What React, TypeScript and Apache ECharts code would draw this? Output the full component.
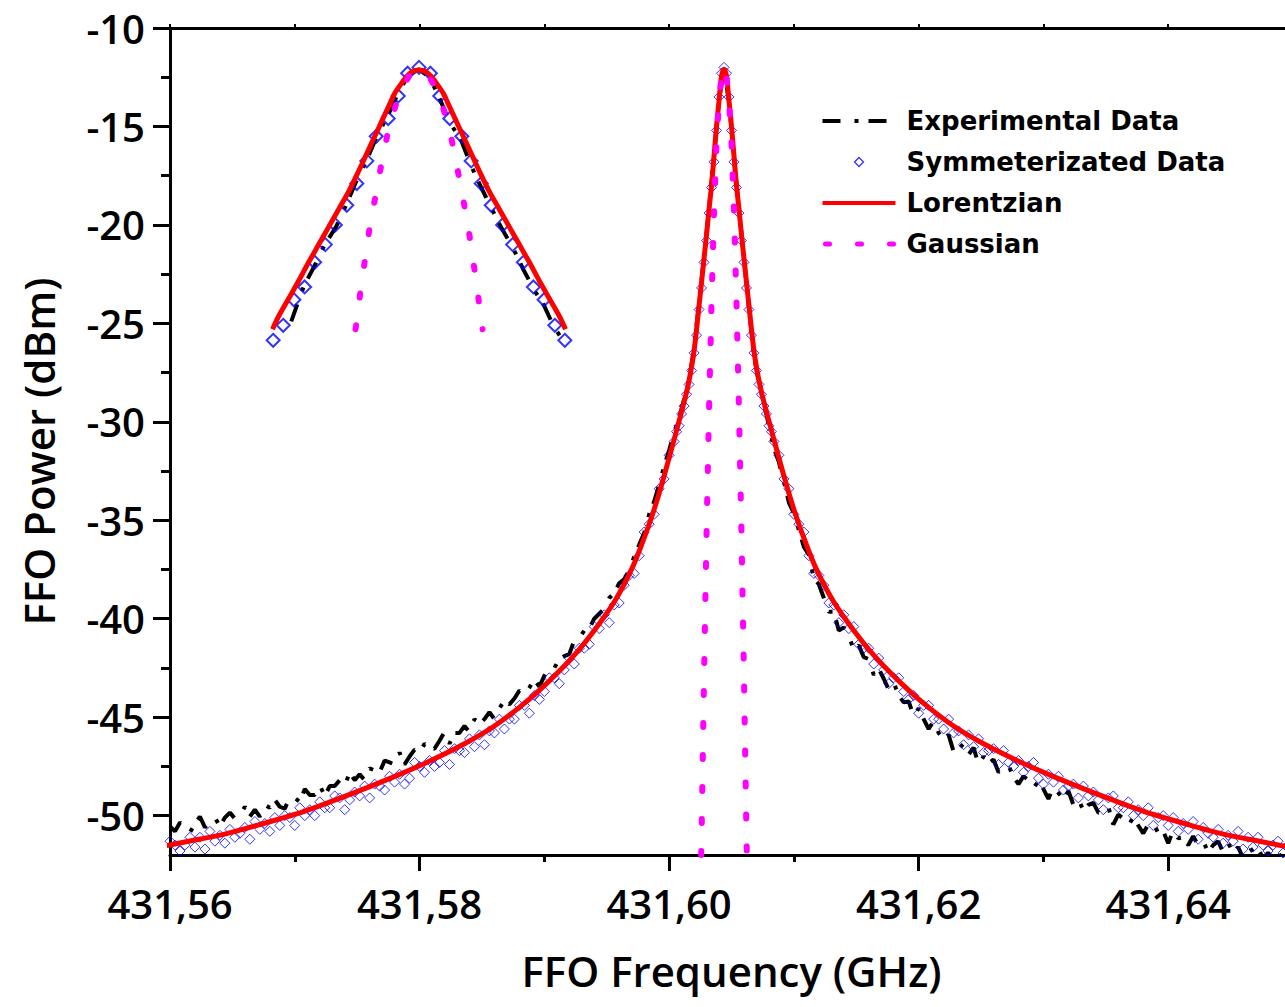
import React, { useEffect, useRef } from 'react';
import * as echarts from 'echarts';

// ---------- axis ticks ----------
const xMajorTicks = [431.56, 431.58, 431.6, 431.62, 431.64];
const xMinorTicks = [431.57, 431.59, 431.61, 431.63];
const xTopTicks = [431.56, 431.57, 431.58, 431.59, 431.6, 431.61, 431.62, 431.63, 431.64];
const yMajorTicks = [-50, -45, -40, -35, -30, -25, -20, -15, -10];
const yMinorTicks = [-47.5, -42.5, -37.5, -32.5, -27.5, -22.5, -17.5, -12.5];

// ---------- peak centre (GHz) ----------
const CENTER = 431.6044;

// ---------- experimental data: sweep start/step (GHz) and power (dBm) ----------
const EXP_START = 431.56;
const EXP_STEP = 0.0004;
const expPower = [
  -50.55, -50.8, -50.35, -50.6, -50.85, -50.4, -50.05, -50.6, -50.35, -50.1,
  -50.55, -50.1, -49.85, -50.15, -50.0, -49.55, -50.05, -49.7, -50.05, -49.45,
  -49.6, -49.2, -49.55, -49.65, -49.05, -49.1, -49.3, -48.65, -48.95, -48.95,
  -48.45, -49.0, -48.5, -48.5, -48.2, -48.5, -47.8, -48.2, -47.9, -48.2,
  -47.6, -47.7, -47.8, -47.2, -47.3, -47.4, -46.8, -47.4, -47.0, -46.65,
  -46.85, -46.35, -46.55, -46.6, -46.2, -45.75, -46.35, -45.8, -45.8, -45.45,
  -45.75, -45.1, -45.35, -45.1, -44.75, -45.1, -44.55, -44.15, -44.35, -44.05,
  -43.65, -43.85, -43.5, -43.1, -43.45, -42.9, -42.45, -42.5, -42.05, -41.9,
  -41.8, -41.1, -41.0, -40.6, -40.5, -40.0, -39.75, -39.5, -38.95, -38.7,
  -38.2, -38.0, -37.55, -36.85, -36.25, -35.65, -34.7, -34.05, -33.2, -32.25,
  -31.45, -30.55, -29.8, -28.85, -27.85, -26.25, -23.95, -21.65, -19.15, -16.45, -13.65,
  -12.1,
  -13.75, -16.55, -19.25, -21.65, -24.25, -26.65, -28.05, -29.05, -30.2, -31.35,
  -32.05, -33.05, -34.1, -34.65, -35.5, -36.35, -36.75, -37.95, -38.25, -38.95,
  -39.65, -39.65, -40.6, -40.45, -40.9, -41.55, -41.35, -41.95, -42.05, -42.85,
  -42.55, -43.05, -43.6, -43.25, -43.9, -44.25, -44.2, -44.95, -44.55, -45.1,
  -45.6, -45.2, -45.8, -46.1, -45.9, -46.75, -46.3, -46.55, -46.9, -46.55,
  -47.4, -47.0, -47.35, -47.15, -47.8, -47.6, -47.45, -48.05, -48.4, -48.0,
  -48.2, -48.6, -48.25, -48.65, -49.15, -48.55, -48.85, -49.15, -48.75, -49.45,
  -49.15, -49.75, -49.45, -49.35, -49.85, -49.85, -49.55, -50.45, -49.95, -50.15,
  -50.5, -50.1, -50.5, -50.9, -50.45, -50.35, -50.9, -50.8, -51.4, -50.75,
  -51.15, -51.1, -51.5, -51.05, -51.5, -51.3, -51.85, -51.5, -51.3, -51.85,
  -51.4, -51.85, -51.6, -52.15, -51.5, -51.85, -51.7, -52.15, -51.9, -52.15,
  -51.8, -52.45, -52.0, -52.25,
];

// ---------- symmetrized data (one half, mirrored about CENTER) ----------
const SYM_FINE_STEP = 0.0002; // offsets 0 .. 0.004
const symFinePower = [
  -12.0, -12.3, -13.5, -15.2, -16.8, -18.1, -19.4, -20.8, -21.9, -23.2,
  -24.3, -25.6, -26.5, -27.4, -28.1, -28.6, -29.2, -29.6, -30.2, -30.5, -31.0,
];
const SYM_COARSE_START = 0.0044;
const SYM_COARSE_STEP = 0.0004;
const symCoarsePower = [
  -31.7, -32.9, -33.4, -34.7, -35.2, -35.6, -36.8, -37.7, -37.8, -38.3,
  -39.2, -39.3, -40.2, -39.8, -40.5, -40.4, -41.3, -41.5, -41.5, -42.3,
  -42.0, -42.6, -43.3, -43.0, -43.0, -43.7, -44.1, -43.9, -44.8, -44.4,
  -44.4, -45.1, -45.1, -45.6, -45.1, -45.8, -45.7, -46.4, -45.9, -46.5,
  -46.1, -46.8, -46.7, -46.6, -47.4, -46.7, -47.3, -47.5, -47.2, -47.8,
  -47.5, -47.3, -48.1, -48.4, -47.9, -48.3, -48.0, -48.7, -48.5, -48.4,
  -49.1, -48.5, -49.0, -48.8, -49.2, -49.7, -49.1, -49.0, -49.6, -49.6,
  -49.3, -50.0, -49.7, -50.0, -49.6, -50.5, -50.1, -50.0, -50.5, -50.1,
  -50.8, -50.4, -50.7, -50.3, -51.2, -50.6, -50.9, -51.1, -50.7, -51.4,
  -51.0, -51.3, -50.8, -51.7, -51.1, -51.6, -51.1, -51.5, -51.8, -51.5,
  -51.3, -51.9, -51.5, -51.9,
];

// ---------- Lorentzian fit, half [offset GHz, dBm] ----------
const lorentzHalf = [
  [0, -12.1], [0.0002, -12.45], [0.0004, -13.7], [0.0006, -15.0], [0.0008, -16.5],
  [0.001, -18.0], [0.0012, -19.2], [0.0014, -20.5], [0.0016, -21.7], [0.0018, -22.9],
  [0.002, -24.1], [0.0024, -26.4], [0.0028, -27.9], [0.0032, -29.0], [0.004, -30.9],
  [0.0048, -32.75], [0.0056, -34.45], [0.0064, -35.9], [0.0072, -37.2], [0.008, -38.25],
  [0.0088, -39.15], [0.0096, -39.9], [0.0104, -40.6], [0.0112, -41.25], [0.012, -41.85],
  [0.0128, -42.4], [0.0144, -43.4], [0.016, -44.3], [0.0184, -45.45], [0.0208, -46.35],
  [0.024, -47.35], [0.0273, -48.25], [0.0305, -49.05], [0.0337, -49.8], [0.0369, -50.4],
  [0.0401, -50.95], [0.0433, -51.35], [0.0461, -51.7],
];

// ---------- Gaussian fit, half ----------
const gaussHalf = [
  [0, -12.0], [0.0002, -12.5], [0.0004, -13.7], [0.0006, -15.9], [0.0008, -19.3],
  [0.001, -23.9], [0.0012, -29.4], [0.0014, -35.7], [0.0016, -42.9], [0.0018, -51.1],
  [0.00183, -52.0],
];

// ---------- inset (zoomed peak) ----------
const INSET_HALF_SPAN = 0.00219;
const insetExp = [
  [-0.00191, -24.9], [-0.00172, -23.1], [-0.00155, -22.0], [-0.00141, -21.0], [-0.00124, -20.1],
  [-0.00109, -19.0], [-0.00094, -17.8], [-0.00078, -16.7], [-0.00063, -15.5], [-0.00046, -14.4],
  [-0.00031, -13.3], [-0.00016, -12.4], [0, -12.1], [0.00016, -12.5], [0.00031, -13.6],
  [0.00046, -14.8], [0.00063, -15.7], [0.00078, -17.0], [0.00093, -18.1], [0.00109, -19.2],
  [0.00124, -20.2], [0.00141, -21.2], [0.00155, -22.2], [0.00172, -23.3], [0.00187, -24.1],
  [0.00202, -25.2], [0.00218, -26.0],
];
const insetSymHalf = [
  [0, -12.0], [0.00017, -12.3], [0.00031, -13.45], [0.00046, -14.6], [0.00064, -15.5],
  [0.00078, -16.75], [0.00093, -17.9], [0.00108, -19.0], [0.00125, -20.0], [0.0014, -21.0],
  [0.00156, -21.9], [0.00171, -23.15], [0.00187, -23.8], [0.00203, -25.1], [0.00218, -25.86],
];
const insetLorentzHalf = [
  [0, -12.13], [0.00009, -12.2], [0.00018, -12.45], [0.00027, -12.85], [0.00036, -13.3],
  [0.00045, -13.95], [0.0006, -15.05], [0.00075, -16.15], [0.0009, -17.25], [0.00105, -18.3],
  [0.0012, -19.2], [0.00135, -20.1], [0.0015, -21.0], [0.00165, -21.9], [0.0018, -22.85],
  [0.00195, -23.75], [0.0021, -24.65], [0.00219, -25.3],
];
const insetGaussHalf = [
  [0, -12.1], [0.00015, -12.45], [0.0003, -13.4], [0.00045, -15.05], [0.00055, -16.7],
  [0.00064, -18.35], [0.00073, -19.95], [0.0008, -21.6], [0.00087, -23.2], [0.00093, -24.9],
  [0.00095, -25.3],
];

const seriesNames = ['Experimental Data', 'Symmeterizated Data', 'Lorentzian', 'Gaussian'];

function mirror(half: number[][]): number[][] {
  const left = half.slice(1).reverse().map(([o, v]) => [CENTER - o, v]);
  const right = half.map(([o, v]) => [CENTER + o, v]);
  return [...left, ...right];
}

const TICK_FONT = "'Open Sans', 'DejaVu Sans', sans-serif";
// legend icon for the diamonds: a small diamond centred in the 73 x 10 icon box
const LEGEND_DIAMOND = 'path://M0,5L0,5M32,5L36.5,0.5L41,5L36.5,9.5ZM73,5L73,5';

export default function App() {
  const ref = useRef<HTMLDivElement>(null);

  useEffect(() => {
    if (!ref.current) return;
    const chart = echarts.init(ref.current, undefined, { renderer: 'svg' });

    const expData = expPower.map((v, i) => [EXP_START + i * EXP_STEP, v]);
    const symHalf: number[][] = [
      ...symFinePower.map((v, i) => [i * SYM_FINE_STEP, v]),
      ...symCoarsePower.map((v, i) => [SYM_COARSE_START + i * SYM_COARSE_STEP, v]),
    ];
    const symData = mirror(symHalf);
    const lorData = mirror(lorentzHalf);
    const gauData = mirror(gaussHalf);
    const inExp = insetExp.map(([o, v]) => [CENTER + o, v]);
    const inSym = mirror(insetSymHalf);
    const inLor = mirror(insetLorentzHalf);
    const inGau = mirror(insetGaussHalf);

    const blackDash = [18, 14, 4, 10];
    const dotDash = [4, 28];
    const hiddenSymbol = { opacity: 0 };

    const option: any = {
      animation: false,
      backgroundColor: '#ffffff',
      grid: [
        { left: 170, top: 28, width: 1123, height: 827, outerBoundsMode: 'none', containLabel: false },
        { left: 272.5, top: 28, width: 293, height: 827, outerBoundsMode: 'none', containLabel: false },
      ],
      legend: {
        orient: 'vertical',
        left: 820,
        top: 106,
        padding: 0,
        itemWidth: 73,
        itemHeight: 10,
        itemGap: 11,
        selectedMode: false,
        textStyle: {
          fontFamily: "'DejaVu Sans', sans-serif",
          fontWeight: 'bold',
          fontSize: 26,
          color: '#000',
          lineHeight: 30,
          padding: [0, 0, 0, 6],
        },
        data: [
          { name: seriesNames[0], itemStyle: hiddenSymbol, lineStyle: { color: '#000', width: 4, type: blackDash } },
          {
            name: seriesNames[1], icon: LEGEND_DIAMOND,
            itemStyle: { color: 'rgba(0,0,0,0)', borderColor: '#0000ff', borderWidth: 1.3 },
          },
          { name: seriesNames[2], itemStyle: hiddenSymbol, lineStyle: { color: '#ff0000', width: 4 } },
          {
            name: seriesNames[3], itemStyle: hiddenSymbol,
            lineStyle: { color: '#ff00ff', width: 5, type: dotDash, cap: 'round', dashOffset: -3 },
          },
        ],
      },
      xAxis: [
        {
          type: 'value', gridIndex: 0, position: 'bottom', min: 431.56, max: 431.65,
          axisLine: { show: true, onZero: false, lineStyle: { color: '#000', width: 3 } },
          axisTick: { show: true, length: 16, lineStyle: { color: '#000', width: 3 }, customValues: xMajorTicks },
          axisLabel: {
            customValues: xMajorTicks, margin: 28, color: '#000', fontSize: 40, fontWeight: 600,
            fontFamily: TICK_FONT, formatter: (v: number) => v.toFixed(2).replace('.', ','),
          },
          splitLine: { show: false },
          name: 'FFO Frequency (GHz)', nameLocation: 'middle', nameGap: 94,
          nameTextStyle: { color: '#000', fontSize: 42, fontWeight: 600, fontFamily: TICK_FONT },
        },
        {
          type: 'value', gridIndex: 0, position: 'bottom', min: 431.56, max: 431.65,
          axisLine: { show: false, onZero: false },
          axisTick: { show: true, length: 7, lineStyle: { color: '#000', width: 3 }, customValues: xMinorTicks },
          axisLabel: { show: false },
          splitLine: { show: false },
        },
        {
          type: 'value', gridIndex: 0, position: 'top', min: 431.56, max: 431.65,
          axisLine: { show: true, onZero: false, lineStyle: { color: '#000', width: 3 } },
          axisTick: { show: true, length: 4, lineStyle: { color: '#000', width: 2 }, customValues: xTopTicks },
          axisLabel: { show: false },
          splitLine: { show: false },
        },
        {
          type: 'value', gridIndex: 1, show: false,
          min: CENTER - INSET_HALF_SPAN, max: CENTER + INSET_HALF_SPAN,
          splitLine: { show: false },
        },
      ],
      yAxis: [
        {
          type: 'value', gridIndex: 0, position: 'left', min: -52, max: -10,
          axisLine: { show: true, onZero: false, lineStyle: { color: '#000', width: 3 } },
          axisTick: { show: true, length: 17, lineStyle: { color: '#000', width: 3 }, customValues: yMajorTicks },
          axisLabel: {
            customValues: yMajorTicks, margin: 25, color: '#000', fontSize: 40, fontWeight: 600,
            fontFamily: TICK_FONT,
          },
          splitLine: { show: false },
          name: 'FFO Power (dBm)', nameLocation: 'middle', nameGap: 111,
          nameTextStyle: {
            color: '#000', fontSize: 42, fontWeight: 600, fontFamily: TICK_FONT,
            padding: [0, 20, 0, 0],
          },
        },
        {
          type: 'value', gridIndex: 0, position: 'left', min: -52, max: -10,
          axisLine: { show: false, onZero: false },
          axisTick: { show: true, length: 9, lineStyle: { color: '#000', width: 3 }, customValues: yMinorTicks },
          axisLabel: { show: false },
          splitLine: { show: false },
        },
        {
          type: 'value', gridIndex: 1, show: false, min: -52, max: -10,
          splitLine: { show: false },
        },
      ],
      series: [
        {
          name: seriesNames[0], type: 'line', xAxisIndex: 0, yAxisIndex: 0, data: expData,
          symbol: 'none', showSymbol: false, z: 2, silent: true,
          itemStyle: { color: '#000' },
          lineStyle: { color: '#000', width: 4, type: blackDash },
        },
        {
          name: seriesNames[1], type: 'scatter', xAxisIndex: 0, yAxisIndex: 0, data: symData,
          symbol: 'diamond', symbolSize: 10, z: 3, silent: true,
          itemStyle: { color: 'rgba(0,0,0,0)', borderColor: '#0000ff', borderWidth: 1 },
        },
        {
          name: seriesNames[2], type: 'line', xAxisIndex: 0, yAxisIndex: 0, data: lorData,
          symbol: 'none', showSymbol: false, smooth: 0.3, z: 4, silent: true,
          itemStyle: { color: '#ff0000' },
          lineStyle: { color: '#ff0000', width: 5 },
        },
        {
          name: seriesNames[3], type: 'line', xAxisIndex: 0, yAxisIndex: 0, data: gauData,
          symbol: 'none', showSymbol: false, z: 5, silent: true,
          itemStyle: { color: '#ff00ff' },
          lineStyle: { color: '#ff00ff', width: 6, type: dotDash, cap: 'round' },
        },
        {
          name: 'inset-exp', type: 'line', xAxisIndex: 3, yAxisIndex: 2, data: inExp,
          symbol: 'none', showSymbol: false, z: 2, silent: true, clip: false,
          itemStyle: { color: '#000' },
          lineStyle: { color: '#000', width: 4, type: blackDash },
        },
        {
          name: 'inset-sym', type: 'scatter', xAxisIndex: 3, yAxisIndex: 2, data: inSym,
          symbol: 'diamond', symbolSize: 13, z: 3, silent: true, clip: false,
          itemStyle: { color: 'rgba(0,0,0,0)', borderColor: '#0000ff', borderWidth: 2 },
        },
        {
          name: 'inset-lor', type: 'line', xAxisIndex: 3, yAxisIndex: 2, data: inLor,
          symbol: 'none', showSymbol: false, smooth: 0.3, z: 4, silent: true, clip: false,
          itemStyle: { color: '#ff0000' },
          lineStyle: { color: '#ff0000', width: 5 },
        },
        {
          name: 'inset-gau', type: 'line', xAxisIndex: 3, yAxisIndex: 2, data: inGau,
          symbol: 'none', showSymbol: false, z: 5, silent: true, clip: false,
          itemStyle: { color: '#ff00ff' },
          lineStyle: { color: '#ff00ff', width: 6, type: dotDash, cap: 'round' },
        },
      ],
    };

    chart.setOption(option);
    return () => chart.dispose();
  }, []);

  return (
    <div
      ref={ref}
      style={{ position: 'absolute', left: 0, top: 0, width: 1285, height: 1007, background: '#fff' }}
    />
  );
}
